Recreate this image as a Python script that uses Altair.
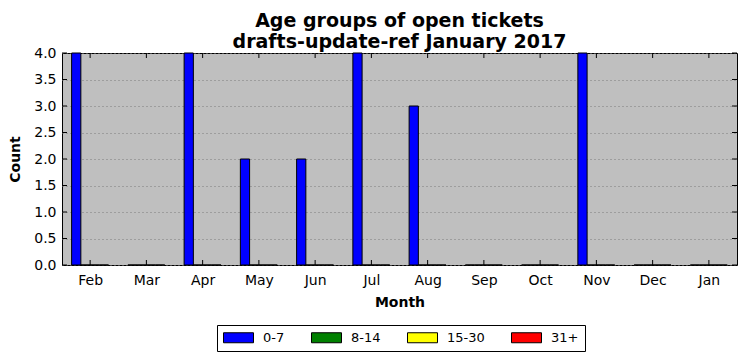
import altair as alt
import pandas as pd

months = ["Feb", "Mar", "Apr", "May", "Jun", "Jul", "Aug", "Sep", "Oct", "Nov", "Dec", "Jan"]
groups = ["0-7", "8-14", "15-30", "31+"]
colors = ["#0000ff", "#008000", "#ffff00", "#ff0000"]
age_0_7 = [4, 0, 4, 2, 2, 4, 3, 0, 0, 4, 0, 0]
age_8_14 = [0, 0, 0, 0, 0, 0, 0, 0, 0, 0, 0, 0]
age_15_30 = [0, 0, 0, 0, 0, 0, 0, 0, 0, 0, 0, 0]
age_31_plus = [0, 0, 0, 0, 0, 0, 0, 0, 0, 0, 0, 0]
y_ticks = [0.0, 0.5, 1.0, 1.5, 2.0, 2.5, 3.0, 3.5, 4.0]

series = [age_0_7, age_8_14, age_15_30, age_31_plus]

# layout (not data)
W, H = 675, 212
BAR_START = -0.329
BAR_W = 0.164
TICK = 5

rows = []
for g, (name, vals) in enumerate(zip(groups, series)):
    for i, v in enumerate(vals):
        x0 = i + BAR_START + g * BAR_W
        rows.append({"month": months[i], "i": i, "group": name, "value": v,
                     "x": x0, "x2": x0 + BAR_W})
df = pd.DataFrame(rows)
month_df = pd.DataFrame({"i": list(range(len(months)))})
ytick_df = pd.DataFrame({"v": y_ticks})

label_expr = "[" + ",".join("'%s'" % m for m in months) + "][datum.value]"

xscale = alt.Scale(domain=[-0.5, len(months) - 0.5], nice=False, zero=False)
yscale = alt.Scale(domain=[0, 4], nice=False)

font = "DejaVu Sans"

x_axis = alt.Axis(values=list(range(len(months))), labelExpr=label_expr,
                  title="Month", grid=False, ticks=False, domain=False,
                  labelPadding=8, labelFontSize=14, labelFont=font,
                  titleFont=font, titleFontSize=14, titleFontWeight="bold",
                  titlePadding=8, labelColor="black", titleColor="black")
y_axis = alt.Axis(values=y_ticks, format=".1f", title="Count", grid=True,
                  gridColor="#7a7a7a", gridDash=[1, 3], gridWidth=1,
                  ticks=False, domain=False, labelPadding=6,
                  labelFontSize=14, labelFont=font, titleFont=font,
                  titleFontSize=14, titleFontWeight="bold", titlePadding=11,
                  labelColor="black", titleColor="black")

bars = alt.Chart(df).mark_bar(stroke="black", strokeWidth=1, opacity=1).encode(
    x=alt.X("x:Q", scale=xscale, axis=x_axis),
    x2="x2:Q",
    y=alt.Y("value:Q", scale=yscale, axis=y_axis),
    y2=alt.datum(0),
    color=alt.Color("group:N", scale=alt.Scale(domain=groups, range=colors),
                    legend=alt.Legend(title=None, orient="none", direction="horizontal",
                                      columns=4, legendX=155, legendY=272,
                                      symbolType="M-3,-1L3,-1L3,1L-3,1Z",
                                      symbolSize=100, symbolOffset=9,
                                      symbolStrokeColor="black",
                                      symbolStrokeWidth=1, symbolOpacity=1,
                                      labelFont=font, labelFontSize=13, labelColor="black",
                                      labelOffset=18, columnPadding=24, padding=6,
                                      strokeColor="black", fillColor="white",
                                      cornerRadius=0)),
)

bottom_ticks = alt.Chart(month_df).mark_rule(color="black", strokeWidth=1).encode(
    x=alt.X("i:Q", scale=xscale, axis=x_axis), y=alt.value(H), y2=alt.value(H - TICK))
top_ticks = alt.Chart(month_df).mark_rule(color="black", strokeWidth=1).encode(
    x=alt.X("i:Q", scale=xscale, axis=x_axis), y=alt.value(0), y2=alt.value(TICK))
left_ticks = alt.Chart(ytick_df).mark_rule(color="black", strokeWidth=1).encode(
    y=alt.Y("v:Q", scale=yscale, axis=y_axis), x=alt.value(0), x2=alt.value(TICK))
right_ticks = alt.Chart(ytick_df).mark_rule(color="black", strokeWidth=1).encode(
    y=alt.Y("v:Q", scale=yscale, axis=y_axis), x=alt.value(W - TICK), x2=alt.value(W))

chart = alt.layer(bars, bottom_ticks, top_ticks, left_ticks, right_ticks).properties(
    width=W, height=H,
    background="white",
    autosize=alt.AutoSizeParams(type="none"),
    padding={"left": 54, "top": 45, "right": 1, "bottom": 88},
    title=alt.TitleParams(text=["Age groups of open tickets", "drafts-update-ref January 2017"],
                          font=font, fontSize=19, fontWeight="bold", color="black",
                          anchor="middle", offset=-6, lineHeight=21),
).configure_view(fill="#bfbfbf", stroke="black", strokeWidth=1)

chart.save("out.html", embed_options={"renderer": "svg", "actions": False})
